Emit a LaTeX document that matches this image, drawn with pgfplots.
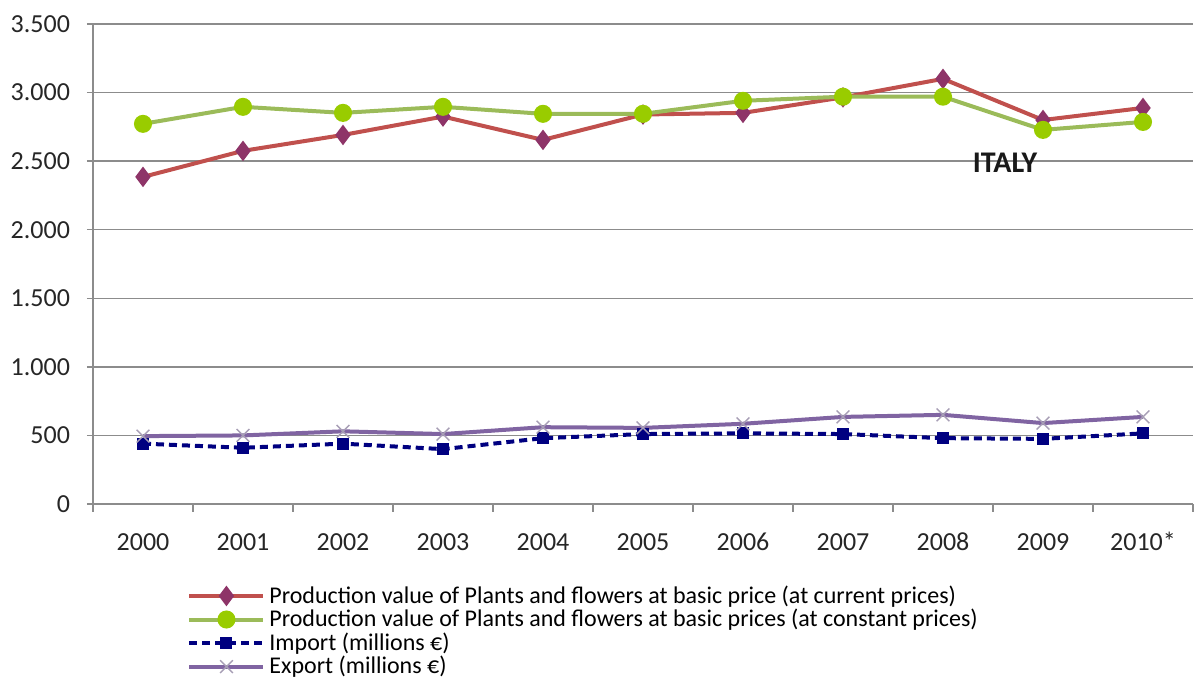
\documentclass[border=0pt]{standalone}
\usepackage{fontspec}
\setmainfont{Carlito}
\usepackage{pgfplots}
\pgfplotsset{compat=1.18}
\definecolor{redl}{HTML}{C0504D}
\definecolor{redm}{HTML}{8E3468}
\definecolor{greenl}{HTML}{9BBB59}
\definecolor{greenm}{HTML}{99CC00}
\definecolor{navyl}{HTML}{000080}
\definecolor{purl}{HTML}{8064A2}
\definecolor{purm}{HTML}{A79EB5}
\definecolor{gridgray}{HTML}{8C8C8C}
\begin{document}
\begin{tikzpicture}
\path[use as bounding box] (-46.5pt,-95.5pt) rectangle (551pt,252pt);
\begin{axis}[
  scale only axis, width=550pt, height=240pt,
  xmin=-0.5, xmax=10.5, ymin=0, ymax=3500,
  axis x line*=bottom, axis y line*=left,
  axis line style={draw=gridgray, line width=0.75pt, -},
  xtick={0,...,10},
  xticklabels={2000,2001,2002,2003,2004,2005,2006,2007,2008,2009,2010*},
  minor xtick={-0.5,0.5,...,10.5},
  major x tick style={draw=none},
  minor x tick style={draw=gridgray, line width=0.75pt},
  minor tick length=4pt,
  ytick={0,500,...,3500},
  yticklabels={0,500,1.000,1.500,2.000,2.500,3.000,3.500},
  y tick style={draw=gridgray, line width=0.75pt},
  major tick length=3pt,
  tick align=outside,
  ymajorgrids,
  major grid style={draw=gridgray, line width=0.75pt},
  tick label style={font=\fontsize{13}{14}\selectfont, text=black!85},
  xticklabel style={yshift=-7.5pt, text height=9pt, text depth=0pt},
  yticklabel style={xshift=-5pt},
  legend style={at={(rel axis cs:0.0855,-0.161)}, anchor=north west, draw=none, fill=none,
    font=\fontsize{12}{13}\selectfont, row sep=-2.5pt, inner sep=0pt},
  legend cell align=left,
  legend image code/.code={\draw[mark repeat=2,mark phase=2,#1] plot coordinates {(0pt,0pt) (18.5pt,0pt) (37pt,0pt)};},
]
\addplot[redl, line width=2pt, mark=diamond*, mark size=3.5pt, mark options={fill=redm, draw=redm, solid}]
  coordinates {(0,2385) (1,2575) (2,2691) (3,2825) (4,2655) (5,2840) (6,2852) (7,2965) (8,3100) (9,2800) (10,2888)};
\addlegendentry{Production value of Plants and flowers at basic price (at current prices)}
\addplot[greenl, line width=2pt, mark=*, mark size=3.5pt, mark options={fill=greenm, draw=greenm, solid}]
  coordinates {(0,2772) (1,2896) (2,2852) (3,2896) (4,2845) (5,2845) (6,2940) (7,2970) (8,2970) (9,2728) (10,2786)};
\addlegendentry{Production value of Plants and flowers at basic prices (at constant prices)}
\addplot[navyl, line width=2pt, dash pattern=on 4pt off 2.5pt, mark=square*, mark size=2pt, mark options={fill=navyl, draw=navyl, solid}]
  coordinates {(0,440) (1,410) (2,440) (3,400) (4,480) (5,510) (6,515) (7,510) (8,480) (9,475) (10,515)};
\addlegendentry{Import (millions €)}
\addplot[purl, line width=2pt, mark=x, mark size=4.5pt, mark options={draw=purm, line width=0.7pt, solid}]
  coordinates {(0,495) (1,500) (2,530) (3,510) (4,560) (5,555) (6,585) (7,635) (8,650) (9,590) (10,635)};
\addlegendentry{Export (millions €)}
\node[font=\fontsize{15}{17}\selectfont\bfseries, text=black!90] at (axis cs:8.62,2487) {ITALY};
\end{axis}
\end{tikzpicture}
\end{document}
